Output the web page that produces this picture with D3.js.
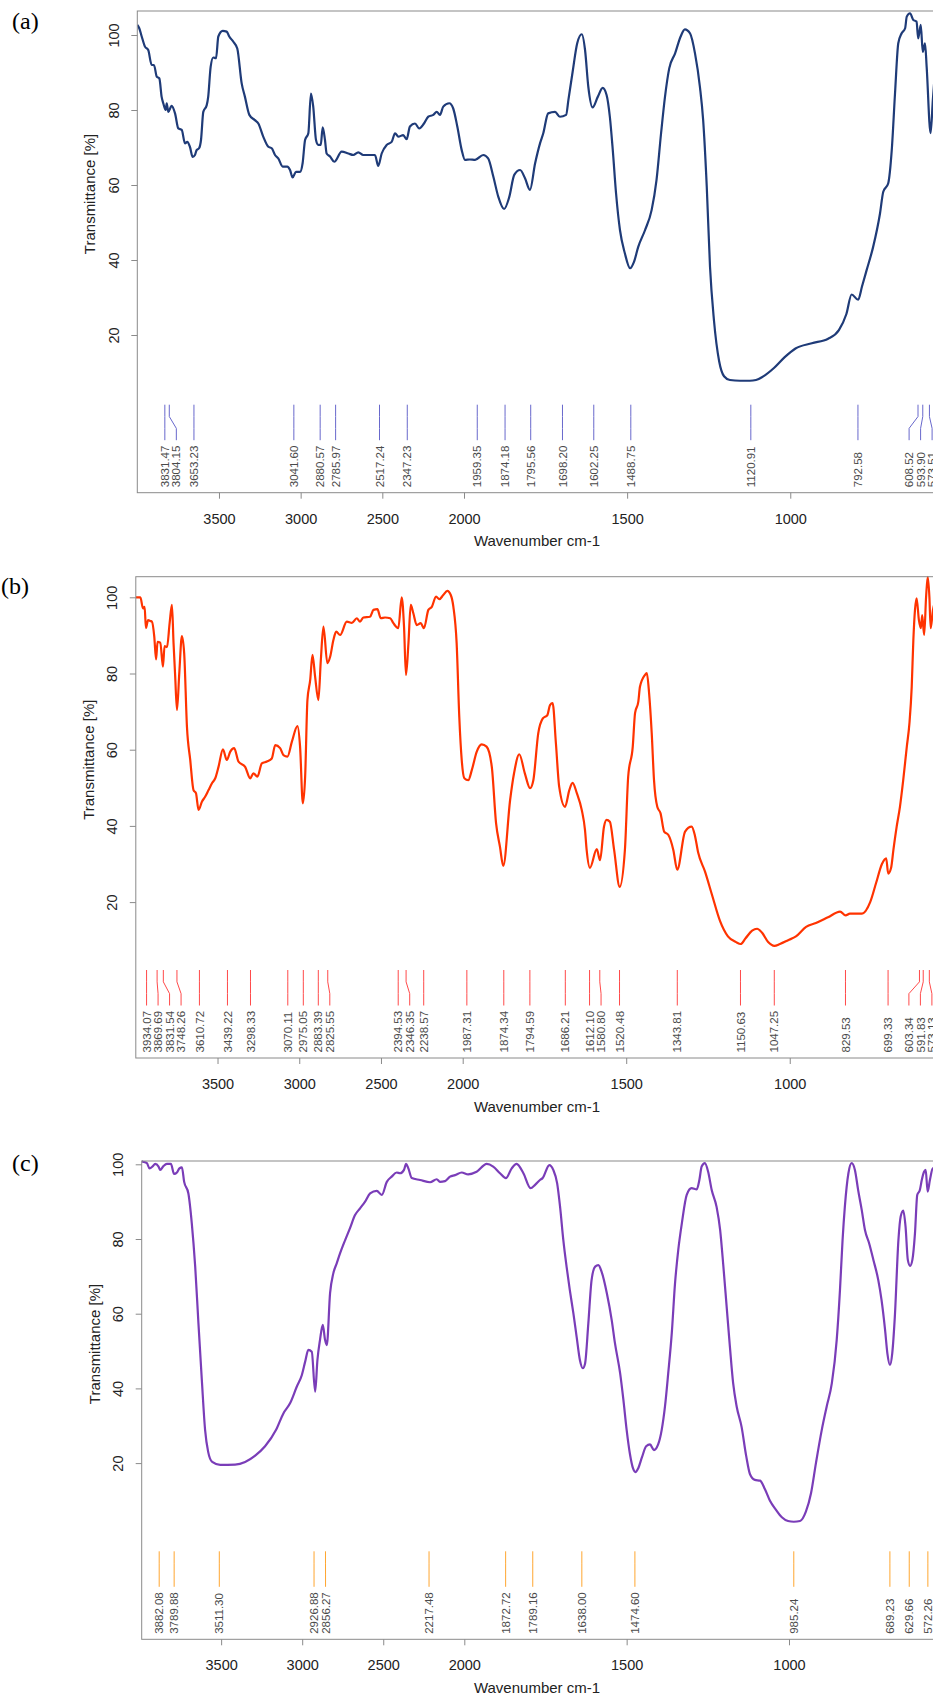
<!DOCTYPE html>
<html>
<head>
<meta charset="utf-8">
<script src="https://cdn.jsdelivr.net/npm/d3@7"></script>
<style>
  html, body { margin: 0; padding: 0; background: #fff; }
  svg { display: block; }
</style>
</head>
<body>
<svg id="chart" width="933" height="1697"></svg>
<script>
// ---------- Spectrum (a) ----------
const wnA = [4000,3988,3973,3953,3933,3912,3898,3881,3865,3851,3841,3826,3820,3810,3790,3769,3749,3728,3708,3694,3678,3661,3647,3637,3622,3610,3596,3575,3566,3551,3535,3518,3504,3477,3453,3437,3412,3388,3361,3341,3314,3280,3259,3229,3198,3177,3157,3137,3110,3082,3065,3049,3029,3004,2988,2973,2953,2937,2923,2906,2892,2877,2865,2851,2841,2820,2794,2749,2708,2678,2647,2617,2576,2545,2525,2504,2473,2443,2422,2402,2372,2351,2331,2300,2274,2245,2219,2188,2167,2147,2127,2090,2066,2041,2014,1997,1982,1966,1941,1926,1910,1895,1877,1861,1846,1828,1813,1798,1782,1767,1757,1742,1721,1706,1687,1680,1667,1653,1639,1629,1619,1606,1590,1575,1563,1553,1544,1534,1522,1507,1491,1479,1466,1445,1425,1410,1396,1384,1371,1353,1336,1323,1307,1292,1277,1267,1256,1246,1234,1218,1203,1185,1154,1124,1105,1084,1050,1017,984,934,884,851,828,812,792,780,766,746,725,715,700,689,679,669,659,648,643,633,623,613,608,600,594,587,582,570,563,555];
const trA = [102.7,101.8,99.6,96.9,96,92,92,88.9,88.4,83.5,81.8,80,81.8,79.5,81.1,79.1,75.1,74.7,71.1,71.5,70.2,67.5,68,69.3,69.8,72,79.5,81.3,83.5,91.5,94,93.8,99.6,101.1,100.9,99.6,98.2,96.4,87.1,83.5,78.7,77.3,76.4,72.9,70.2,69.8,68,67.1,64.9,64.9,64,62,63.5,63.5,65.8,72,73.8,84.4,80.9,72,70.7,70.7,75.4,72,68.4,67.6,66.2,68.9,68.4,68,68.7,68,68,68,65.1,68.4,70.7,71.5,73.8,72.9,73.3,72.2,75.6,76.4,75.1,76.4,78.2,78.7,79.5,78.7,80.9,81.8,80.4,75.6,69.3,66.7,66.8,66.7,68,67.1,62.2,56.9,53.6,56.9,62.7,64,61.8,58.7,65.8,71.1,73.8,79.1,79.5,78.2,78.7,82.7,90.2,97.8,100.2,96,86.2,80.7,83.5,85.9,84,78.2,69.3,57.8,48,41.8,37.8,39.5,43.5,48,53.3,61.3,73.8,83.5,91.1,95.1,99.6,101.5,100.4,95.1,86.2,77.3,59.6,38.2,24,13,9,8,7.8,7.8,8,8.9,11.2,14.1,16.4,17.8,19,21.3,25.6,30.8,29.4,33,37.3,43.5,52.4,58.2,60.4,69.3,84.4,97.8,100.4,101.8,104.9,105.8,104,103.6,99.1,102.7,95.5,97.8,91.5,73.8,82.7,92];
const peaksA = [3831.47,3804.15,3653.23,3041.60,2880.57,2785.97,2517.24,2347.23,1959.35,1874.18,1795.56,1698.20,1602.25,1488.75,1120.91,792.58,608.52,593.90,573.51];

// ---------- Spectrum (b) ----------
const wnB = [4000,3972,3956,3946,3938,3925,3911,3901,3887,3876,3867,3850,3834,3824,3809,3793,3779,3769,3759,3748,3734,3718,3704,3687,3667,3647,3632,3616,3595,3575,3555,3534,3514,3494,3467,3443,3422,3398,3372,3331,3300,3280,3256,3229,3198,3168,3147,3117,3097,3072,3045,3011,2995,2978,2964,2950,2933,2919,2903,2883,2868,2852,2828,2811,2791,2774,2750,2709,2678,2648,2628,2608,2567,2546,2522,2501,2475,2444,2424,2394,2373,2359,2347,2332,2318,2302,2281,2257,2237,2210,2189,2163,2143,2119,2094,2073,2057,2037,2021,2006,1995,1983,1972,1957,1942,1927,1911,1898,1886,1876,1855,1843,1827,1810,1794,1784,1769,1755,1741,1733,1725,1715,1705,1687,1674,1664,1651,1636,1626,1621,1611,1590,1580,1568,1560,1550,1537,1520,1504,1494,1480,1473,1463,1458,1443,1437,1430,1422,1415,1405,1395,1384,1371,1356,1344,1320,1300,1290,1280,1259,1238,1213,1189,1164,1150,1135,1115,1100,1085,1066,1047,1030,1005,981,950,920,883,846,829,816,779,754,736,718,705,699,690,683,673,663,653,642,634,627,622,617,612,605,599,595,589,583,578,573,569,562,555];
const trB = [100,100,97.1,97.5,91.9,94,93.8,93.6,89.7,83.7,88.3,88.1,81.8,87.2,86.9,93.2,98,87.9,79.2,70.4,80.1,89.8,85.3,66,57.3,49.4,48.6,44.2,46.4,47.7,49.4,51.2,52.5,55.5,60.1,57.3,59.5,60.4,56.9,55.5,52.5,53.8,52.9,56.4,56.9,57.7,61.2,60.4,58.6,58.2,62.1,66.2,60.8,45.9,52.9,73,78.3,84.9,79.2,73,83.5,92.3,82.7,84.4,88.8,91,90.1,93.6,93.3,94.5,93.6,94.7,94.9,96.7,96.9,94.5,94.7,94.5,93.2,91.9,100,92.3,79.6,87.9,98,95.8,92.7,93.2,91.9,96.7,97.5,100.2,99.5,100.6,101.7,100.6,97.5,87.9,68.7,57.3,52.5,52,54.7,59.5,61.4,60.8,55.5,40.7,34.5,29.5,46.8,53.8,58.8,53.8,49.9,52,64.3,68.2,69.1,71.7,72.2,61.7,50.3,45,49.4,51.3,48.6,44.2,38.9,33.7,29,33.9,31,39.8,41.6,41.1,33.7,24,33.7,52.9,60.8,69.6,72.6,76.5,79.6,80.1,74.8,64.3,52,45,43.3,38.5,37.6,33.7,28.5,38.5,39.8,37.5,33,28,22,15,11,9.5,9,10.5,12.5,13,12,9.5,8.5,9,10,11,13.5,14.5,16,17.5,16.5,17,17,20,25,30,31.5,27.5,29,33.7,39.8,45,52,60.8,66.9,76.5,88.8,96.7,99.7,94,91.9,95.3,90.1,100.2,105.4,100.2,91.9,96.7,99];
const peaksB = [3934.07,3869.69,3831.54,3748.26,3610.72,3439.22,3298.33,3070.11,2975.05,2883.39,2825.55,2394.53,2346.35,2238.57,1987.31,1874.34,1794.59,1686.21,1612.10,1580.80,1520.48,1343.81,1150.63,1047.25,829.53,699.33,603.34,591.83,573.13];

// ---------- Spectrum (c) ----------
const wnC = [3990,3983,3958,3942,3921,3907,3886,3876,3856,3835,3810,3790,3773,3757,3742,3728,3702,3681,3660,3640,3619,3599,3580,3555,3506,3414,3352,3290,3229,3161,3116,3075,3033,3002,2982,2962,2941,2920,2906,2890,2873,2859,2848,2828,2808,2787,2766,2735,2705,2674,2643,2612,2581,2540,2509,2478,2448,2417,2396,2372,2359,2345,2324,2273,2211,2170,2150,2119,2088,2057,2016,1988,1962,1931,1911,1890,1872,1854,1839,1818,1796,1782,1767,1759,1738,1726,1714,1705,1695,1685,1675,1664,1654,1644,1635,1628,1618,1608,1597,1587,1577,1561,1546,1536,1520,1510,1500,1490,1480,1473,1465,1453,1440,1428,1416,1403,1392,1382,1372,1361,1351,1341,1330,1315,1300,1284,1276,1269,1259,1249,1238,1223,1212,1202,1192,1182,1172,1161,1146,1132,1120,1105,1089,1074,1059,1040,1022,1003,985,966,948,932,917,899,884,868,853,843,835,828,817,807,797,787,776,766,753,740,725,715,704,697,689,682,674,663,656,648,641,634,627,620,612,605,597,591,584,579,573,566,557,550];
const trC = [100.8,100.7,100.3,98.9,99.5,100.1,99.4,98.5,99.5,100.1,100.1,97.4,97.8,98.9,99.2,95.3,92.2,84.2,72.6,57.4,42.2,28.9,23,20.3,19.5,19.6,20.3,22,24.5,28.9,33.3,36,40.5,43.6,47.1,50.3,49.8,39.1,47.6,53,57,53,51.6,65.5,70.8,73.5,76.2,79.7,82.9,86.4,88.2,90,92.2,92.9,91.8,95.3,96.7,97.8,97.6,98.5,100.1,98.9,96.3,95.8,95.2,96,95.3,95.5,96.7,97.1,97.8,97.3,98,100.1,99.4,97.6,96.3,98.9,100.1,97.6,93.6,94.5,95.8,96.3,99.8,98.5,94.9,88.6,79.7,72.6,66.3,60.1,53.8,47.6,45.4,46.7,57.4,69,72.6,73,71.2,65.5,58.3,52.1,44,36.9,28.9,22.5,18.5,17.6,18.5,21.5,24.5,25,23.5,25,28.9,35.1,44,54.8,68.1,77.1,84.2,91.8,93.6,93.3,95.8,99.4,100.3,98,93.1,88.6,82.4,72.6,61.9,51.2,41.4,35.1,29.7,22,17,15.5,15.3,13,10,7.5,5.5,4.5,4.3,4.5,7,12,20,28.9,35.1,41.4,53,66.3,79.7,88.6,97.6,100.3,98.5,93.1,87.8,82.4,78.8,74.4,69,63.7,55.6,49.4,46.3,49.4,59.2,79.7,86,87.6,83.3,74.4,72.8,74.4,81.5,91.8,93.1,95.8,98,98.5,92.7,95.8,98.9,99];
const peaksC = [3882.08,3789.88,3511.30,2926.88,2856.27,2217.48,1872.72,1789.16,1638.00,1474.60,985.24,689.23,629.66,572.26];

// ---------- Axis ticks and titles ----------
const xTickValues = [3500, 3000, 2500, 2000, 1500, 1000];
const yTickValues = [20, 40, 60, 80, 100];
const panelLetters = ["(a)", "(b)", "(c)"];
const xTitle = "Wavenumber cm-1";
const yTitle = "Transmittance [%]";

// ---------- Layout of the three stacked panels ----------
const layout = [
  { wn: wnA, tr: trA, peaks: peaksA, line: "#1f3b78", peakColor: "#6868cc",
    xWn: [4000, 2000, 550], xPix: [137.3, 464, 937.1],
    top: 11, bottom: 492.7, y20: 335, y100: 35, letterX: 12, letterY: 29 },
  { wn: wnB, tr: trB, peaks: peaksB, line: "#ff3300", peakColor: "#ff4a4a",
    xWn: [4000, 2000, 550], xPix: [135.8, 462.7, 936.9],
    top: 576.7, bottom: 1058, y20: 902.1, y100: 597.3, letterX: 1, letterY: 594 },
  { wn: wnC, tr: trC, peaks: peaksC, line: "#7a3db8", peakColor: "#ffa630",
    xWn: [3990, 2000, 550], xPix: [141.7, 464.3, 935.1],
    top: 1161, bottom: 1639.3, y20: 1463.1, y100: 1164.3, letterX: 12, letterY: 1171 }
];

const FONT = "'Liberation Sans', Arial, sans-serif";
const AXIS_GRAY = "#8a8a8a";
const LABEL_GAP = 11.5;

const svg = d3.select("#chart");

layout.forEach((p, i) => {
  const x = d3.scaleLinear().domain(p.xWn).range(p.xPix);
  const y = d3.scaleLinear().domain([20, 100]).range([p.y20, p.y100]);
  const left = p.xPix[0], right = p.xPix[2];
  const g = svg.append("g");

  // panel letter
  g.append("text")
    .attr("x", p.letterX).attr("y", p.letterY)
    .attr("font-family", "'Liberation Serif', 'Times New Roman', serif")
    .attr("font-size", 24).attr("fill", "#000")
    .text(panelLetters[i]);

  // clip region for the spectrum
  const clipId = "plot-clip-" + i;
  svg.append("clipPath").attr("id", clipId)
    .append("rect")
    .attr("x", left).attr("y", p.top - 1)
    .attr("width", right - left).attr("height", p.bottom - p.top + 1);

  // spectrum trace
  const pts = p.wn.map((w, k) => [w, p.tr[k]]);
  const line = d3.line()
    .x(d => x(d[0])).y(d => y(d[1]))
    .curve(d3.curveMonotoneX);
  g.append("path")
    .datum(pts)
    .attr("clip-path", `url(#${clipId})`)
    .attr("fill", "none")
    .attr("stroke", p.line)
    .attr("stroke-width", 2.2)
    .attr("stroke-linejoin", "round")
    .attr("d", line);

  // plot frame
  g.append("rect")
    .attr("x", left).attr("y", p.top)
    .attr("width", right - left).attr("height", p.bottom - p.top)
    .attr("fill", "none").attr("stroke", AXIS_GRAY).attr("stroke-width", 1);

  // x axis
  const xAxis = d3.axisBottom(x).tickValues(xTickValues).tickSize(6).tickFormat(d3.format("d"));
  const gx = g.append("g").attr("transform", `translate(0,${p.bottom})`).call(xAxis);
  gx.select(".domain").remove();
  gx.selectAll(".tick line").attr("stroke", AXIS_GRAY);
  gx.selectAll(".tick text")
    .attr("y", 31).attr("dy", 0)
    .attr("font-family", FONT).attr("font-size", 14.5).attr("fill", "#222");

  // y axis
  const yAxis = d3.axisLeft(y).tickValues(yTickValues).tickSize(6).tickFormat(d3.format("d"));
  const gy = g.append("g").attr("transform", `translate(${left},0)`).call(yAxis);
  gy.select(".domain").remove();
  gy.selectAll(".tick line").attr("stroke", AXIS_GRAY);
  gy.selectAll(".tick text")
    .attr("x", null).attr("dy", null)
    .attr("transform", "translate(-18.5,0) rotate(-90)")
    .attr("text-anchor", "middle")
    .attr("font-family", FONT).attr("font-size", 14.5).attr("fill", "#222");

  // axis titles
  g.append("text")
    .attr("x", 537).attr("y", p.bottom + 53.5)
    .attr("text-anchor", "middle")
    .attr("font-family", FONT).attr("font-size", 15).attr("fill", "#222")
    .text(xTitle);
  g.append("text")
    .attr("transform", `translate(${left - 42},${p.top + 183}) rotate(-90)`)
    .attr("text-anchor", "middle")
    .attr("font-family", FONT).attr("font-size", 15).attr("fill", "#222")
    .text(yTitle);

  // peak markers: labels are spread apart so that they never overlap
  const marks = p.peaks.map(v => ({ v, x0: x(v) })).sort((a, b) => a.x0 - b.x0);
  marks.forEach((m, k) => {
    m.xl = k === 0 ? m.x0 : Math.max(m.x0, marks[k - 1].xl + LABEL_GAP);
  });
  const limit = right - 5;
  for (let k = marks.length - 1; k >= 0; k--) {
    const cap = k === marks.length - 1 ? limit : marks[k + 1].xl - LABEL_GAP;
    marks[k].xl = Math.min(marks[k].xl, cap);
  }
  const yTop = p.bottom - 88, yBot = p.bottom - 52.5;
  const h = yBot - yTop;
  const pg = g.append("g");
  pg.selectAll("path")
    .data(marks)
    .join("path")
    .attr("fill", "none")
    .attr("stroke", p.peakColor)
    .attr("stroke-width", 1)
    .attr("d", m => `M${m.x0},${yTop}V${yTop + h / 3}L${m.xl},${yTop + 2 * h / 3}V${yBot}`);
  pg.selectAll("text")
    .data(marks)
    .join("text")
    .attr("transform", m => `translate(${m.xl},${p.bottom - 5.5}) rotate(-90)`)
    .attr("dy", "0.36em")
    .attr("font-family", FONT).attr("font-size", 11.5).attr("fill", "#4a4a4a")
    .text(m => m.v.toFixed(2));
});
</script>
</body>
</html>
